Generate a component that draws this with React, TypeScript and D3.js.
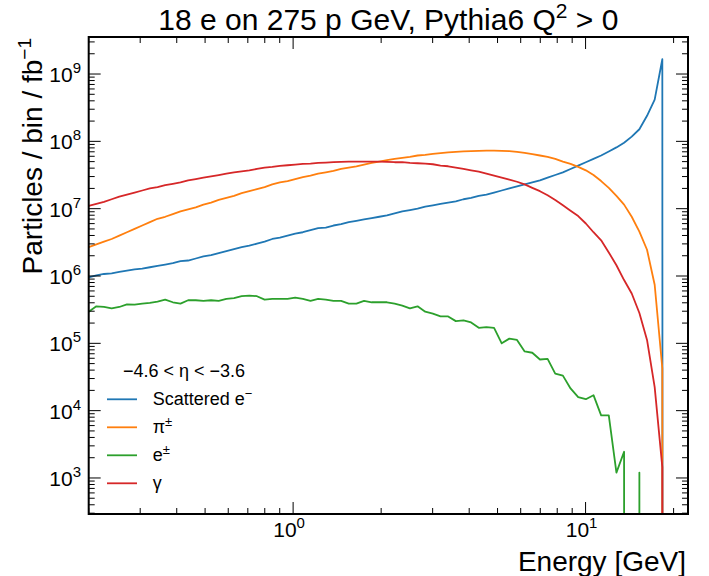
import React, { useEffect, useRef } from "react";
import * as d3 from "d3";

// log-spaced energy bins, 0.2 GeV up to the 18 GeV beam energy (last entry is the empty overflow point)
const binLow = 0.2;
const binHigh = 18.3;
const nBins = 75;
const binEnergies: number[] = d3.range(nBins + 2).map((i) => binLow * Math.pow(binHigh / binLow, i / nBins));

// log10(particles / bin / fb^-1); null = empty bin
const scatteredElectron: (number | null)[] = [
  5.98, 6.01, 6.03, 6.04, 6.06, 6.08, 6.1, 6.11, 6.13, 6.15,
  6.17, 6.19, 6.22, 6.23, 6.26, 6.29, 6.31, 6.34, 6.37, 6.4,
  6.43, 6.45, 6.48, 6.51, 6.55, 6.57, 6.6, 6.63, 6.65, 6.68,
  6.71, 6.72, 6.75, 6.77, 6.8, 6.82, 6.84, 6.86, 6.88, 6.9,
  6.93, 6.96, 6.98, 7.0, 7.03, 7.05, 7.07, 7.09, 7.11, 7.14,
  7.16, 7.19, 7.21, 7.24, 7.27, 7.3, 7.33, 7.36, 7.39, 7.42,
  7.46, 7.5, 7.54, 7.59, 7.64, 7.69, 7.74, 7.79, 7.85, 7.91,
  7.98, 8.07, 8.18, 8.38, 8.62, 9.22, null,
];
const chargedPions: (number | null)[] = [
  6.43, 6.47, 6.51, 6.55, 6.6, 6.65, 6.7, 6.75, 6.8, 6.85,
  6.88, 6.92, 6.96, 6.99, 7.02, 7.06, 7.09, 7.13, 7.16, 7.19,
  7.23, 7.26, 7.29, 7.32, 7.36, 7.39, 7.41, 7.44, 7.47, 7.49,
  7.52, 7.54, 7.56, 7.59, 7.61, 7.63, 7.655, 7.68, 7.7, 7.72,
  7.74, 7.755, 7.77, 7.79, 7.8, 7.815, 7.825, 7.835, 7.845, 7.85,
  7.855, 7.86, 7.862, 7.862, 7.86, 7.855, 7.845, 7.83, 7.81, 7.79,
  7.77, 7.74, 7.7, 7.665, 7.62, 7.57, 7.5, 7.41, 7.31, 7.19,
  7.06, 6.88, 6.66, 6.39, 5.87, 4.63, null,
];
const electrons: (number | null)[] = [
  5.47, 5.55, 5.54, 5.52, 5.54, 5.58, 5.575, 5.59, 5.6, 5.62,
  5.65, 5.61, 5.59, 5.64, 5.64, 5.63, 5.64, 5.63, 5.66, 5.67,
  5.7, 5.71, 5.7, 5.65, 5.66, 5.66, 5.66, 5.68, 5.66, 5.63,
  5.66, 5.65, 5.63, 5.63, 5.59, 5.59, 5.63, 5.61, 5.61, 5.61,
  5.59, 5.56, 5.52, 5.55, 5.47, 5.44, 5.4, 5.4, 5.33, 5.34,
  5.31, 5.23, 5.24, 5.23, 5.0, 5.07, 5.05, 4.88, 4.86, 4.76,
  4.77, 4.55, 4.52, 4.33, 4.2, 4.17, 4.23, 3.93, 3.93, 3.08,
  3.39, null, 3.08, null, null, null, null,
];
const photons: (number | null)[] = [
  7.04, 7.07, 7.1, 7.14, 7.18, 7.21, 7.24, 7.27, 7.3, 7.32,
  7.35, 7.37, 7.39, 7.42, 7.44, 7.46, 7.48, 7.5, 7.52, 7.54,
  7.555, 7.57, 7.59, 7.61, 7.62, 7.635, 7.645, 7.655, 7.665, 7.67,
  7.68, 7.685, 7.69, 7.695, 7.7, 7.7, 7.7, 7.7, 7.7, 7.695,
  7.69, 7.69, 7.68, 7.675, 7.67, 7.66, 7.64, 7.63, 7.61, 7.59,
  7.57, 7.55, 7.52, 7.49, 7.46, 7.43, 7.4, 7.36, 7.31, 7.26,
  7.2, 7.13, 7.05, 6.97, 6.89, 6.78, 6.65, 6.53, 6.35, 6.16,
  5.94, 5.74, 5.45, 5.05, 4.35, 3.16, null,
];

const seriesNames = ["Scattered e", "π", "e", "γ"];
const seriesSup = ["−", "±", "±", ""];
const seriesColors = ["#1f77b4", "#ff7f0e", "#2ca02c", "#d62728"];
const xMajorTicks = [1, 10];
const yMajorTicks = [1e3, 1e4, 1e5, 1e6, 1e7, 1e8, 1e9];

const FONT = "'Liberation Sans', Arial, Helvetica, sans-serif";

const App = () => {
  const ref = useRef<SVGSVGElement | null>(null);

  useEffect(() => {
    document.body.style.margin = "0";
    const svg = d3.select(ref.current);
    svg.selectAll("*").remove();

    const left = 88.7, right = 688, top = 37, bottom = 514;
    const x = d3.scaleLog().domain([0.2, 22.4]).range([left, right]);
    const y = d3.scaleLog().domain([Math.pow(10, 2.465), Math.pow(10, 9.55)]).range([bottom, top]);

    svg.append("rect").attr("width", 709).attr("height", 576).attr("fill", "white");

    svg.append("clipPath").attr("id", "plot-clip")
      .append("rect")
      .attr("x", left).attr("y", top)
      .attr("width", right - left).attr("height", bottom - top);

    // empty bins go to "-inf" like matplotlib's clipping, so the line drops straight down
    const line = d3.line<number | null>()
      .x((d, i) => x(binEnergies[i]))
      .y((d) => (d === null ? y(1e-300) : y(Math.pow(10, d))));

    const plot = svg.append("g").attr("clip-path", "url(#plot-clip)");
    [scatteredElectron, chargedPions, electrons, photons].forEach((s, k) => {
      plot.append("path")
        .datum(s)
        .attr("fill", "none")
        .attr("stroke", seriesColors[k])
        .attr("stroke-width", 1.8)
        .attr("stroke-linejoin", "round")
        .attr("d", line);
    });

    // ticks, inward on all four sides
    const ticks = svg.append("g").attr("stroke", "black").attr("stroke-width", 1);
    const xMinor: number[] = [];
    [0.1, 1, 10].forEach((dec) => d3.range(2, 10).forEach((m) => {
      const v = m * dec;
      if (v >= 0.2 && v <= 22.4) xMinor.push(v);
    }));
    const yMinor: number[] = [];
    [1e2, 1e3, 1e4, 1e5, 1e6, 1e7, 1e8, 1e9].forEach((dec) => d3.range(2, 10).forEach((m) => {
      const v = m * dec;
      if (v >= Math.pow(10, 2.465) && v <= Math.pow(10, 9.55)) yMinor.push(v);
    }));

    const drawX = (vals: number[], len: number) => vals.forEach((v) => {
      ticks.append("line").attr("x1", x(v)).attr("x2", x(v)).attr("y1", bottom).attr("y2", bottom - len);
      ticks.append("line").attr("x1", x(v)).attr("x2", x(v)).attr("y1", top).attr("y2", top + len);
    });
    const drawY = (vals: number[], len: number) => vals.forEach((v) => {
      ticks.append("line").attr("y1", y(v)).attr("y2", y(v)).attr("x1", left).attr("x2", left + len);
      ticks.append("line").attr("y1", y(v)).attr("y2", y(v)).attr("x1", right).attr("x2", right - len);
    });
    drawX(xMajorTicks, 12);
    drawX(xMinor, 6);
    drawY(yMajorTicks, 12);
    drawY(yMinor, 6);

    svg.append("rect")
      .attr("x", left).attr("y", top)
      .attr("width", right - left).attr("height", bottom - top)
      .attr("fill", "none").attr("stroke", "black").attr("stroke-width", 2);

    // tick labels 10^n
    xMajorTicks.forEach((v) => {
      const t = svg.append("text")
        .attr("x", x(v) - 4).attr("y", 537)
        .attr("text-anchor", "middle")
        .style("font-family", FONT).style("font-size", "21px");
      t.append("tspan").text("10");
      t.append("tspan").attr("dy", -9).style("font-size", "15px").text(String(Math.round(Math.log10(v))));
    });
    yMajorTicks.forEach((v) => {
      const t = svg.append("text")
        .attr("x", 81).attr("y", y(v) + 8)
        .attr("text-anchor", "end")
        .style("font-family", FONT).style("font-size", "21px");
      t.append("tspan").text("10");
      t.append("tspan").attr("dy", -9).style("font-size", "15px").text(String(Math.round(Math.log10(v))));
    });

    // title
    const title = svg.append("text")
      .attr("x", (left + right) / 2).attr("y", 30)
      .attr("text-anchor", "middle")
      .style("font-family", FONT).style("font-size", "30px");
    title.append("tspan").text("18 e on 275 p GeV, Pythia6 Q");
    title.append("tspan").attr("dy", -12).style("font-size", "21px").text("2");
    title.append("tspan").attr("dy", 12).text(" > 0");

    // axis labels
    svg.append("text")
      .attr("x", 686).attr("y", 571)
      .attr("text-anchor", "end")
      .style("font-family", FONT).style("font-size", "28px")
      .text("Energy [GeV]");

    const yl = svg.append("text")
      .attr("transform", "translate(42, 38) rotate(-90)")
      .attr("text-anchor", "end")
      .style("font-family", FONT).style("font-size", "28px");
    yl.append("tspan").text("Particles / bin / fb");
    yl.append("tspan").attr("dy", -11).style("font-size", "19px").text("−1");

    // legend
    svg.append("text")
      .attr("x", 184).attr("y", 377)
      .attr("text-anchor", "middle")
      .style("font-family", FONT).style("font-size", "18px")
      .text("−4.6 < η < −3.6");

    seriesNames.forEach((name, k) => {
      const ly = 399.3 + k * 28;
      svg.append("line")
        .attr("x1", 107).attr("x2", 137).attr("y1", ly).attr("y2", ly)
        .attr("stroke", seriesColors[k]).attr("stroke-width", 1.8);
      const t = svg.append("text")
        .attr("x", 152.7).attr("y", ly + 6)
        .style("font-family", FONT).style("font-size", "18px");
      t.append("tspan").text(name);
      if (seriesSup[k]) t.append("tspan").attr("dy", -7).style("font-size", "13px").text(seriesSup[k]);
    });
  }, []);

  return <svg ref={ref} width={709} height={576} style={{ display: "block" }} />;
};

export default App;
